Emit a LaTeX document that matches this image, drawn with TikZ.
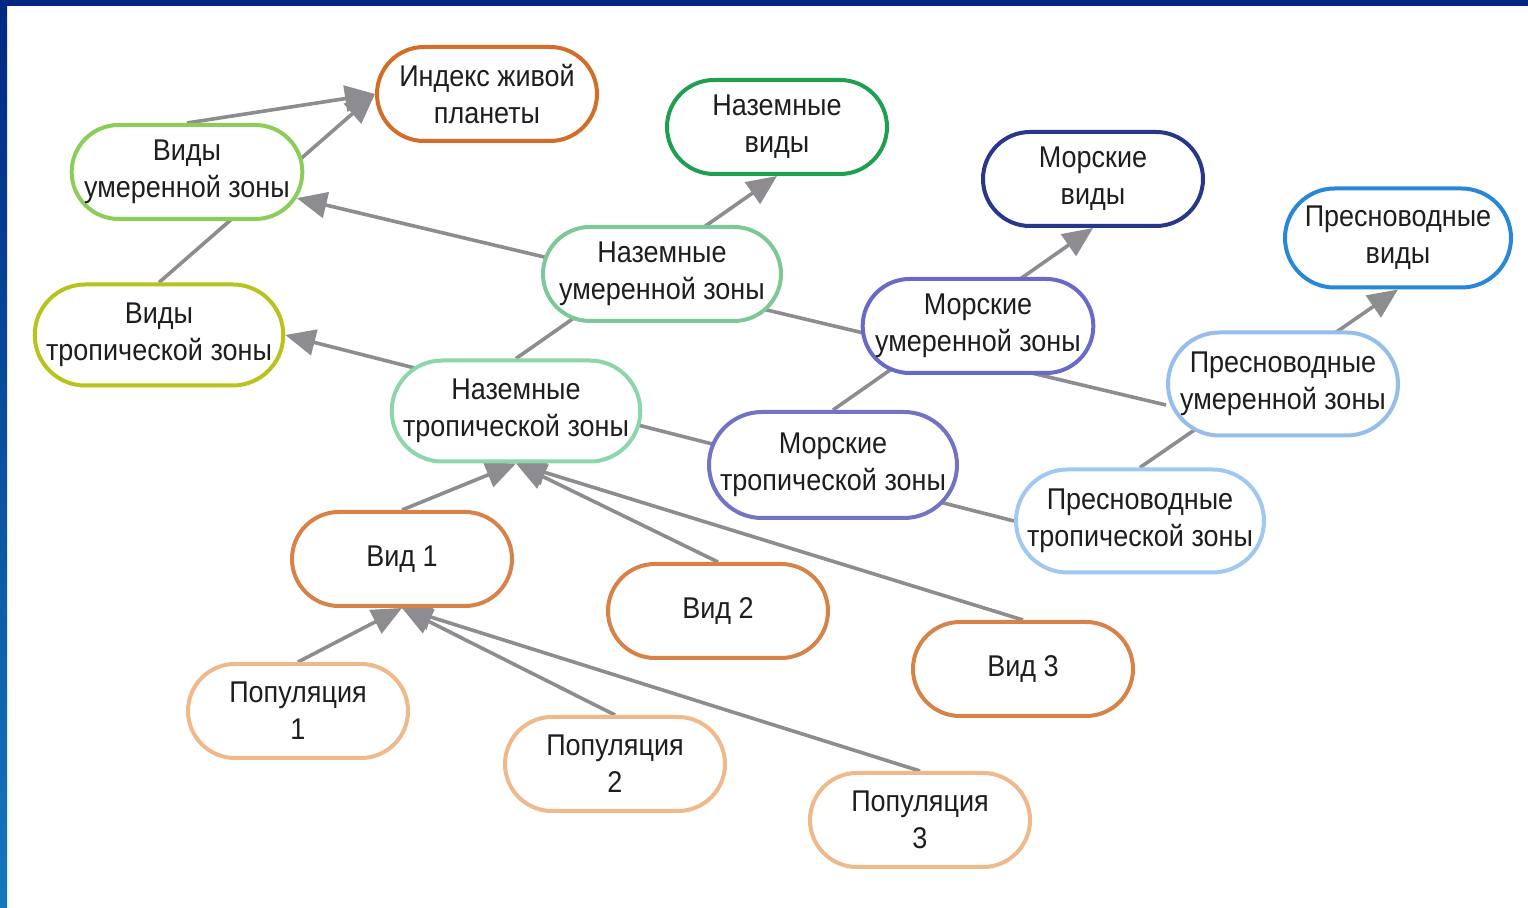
\documentclass[tikz,border=0pt]{standalone}
\usepackage{fontspec}
\setmainfont{Liberation Sans}[FakeStretch=0.9]
\usetikzlibrary{shapes.misc,arrows.meta,backgrounds,calc}
\definecolor{frameA}{RGB}{0,40,130}
\definecolor{frameB}{RGB}{20,120,190}
\definecolor{cIdx}{RGB}{210,110,40}
\definecolor{cNv}{RGB}{30,160,80}
\definecolor{cMv}{RGB}{40,55,140}
\definecolor{cPv}{RGB}{40,135,215}
\definecolor{cVu}{RGB}{140,205,90}
\definecolor{cVt}{RGB}{185,195,30}
\definecolor{cNu}{RGB}{125,200,150}
\definecolor{cNt}{RGB}{140,215,170}
\definecolor{cMu}{RGB}{105,105,200}
\definecolor{cMt}{RGB}{115,115,195}
\definecolor{cPu}{RGB}{150,190,235}
\definecolor{cPt}{RGB}{160,200,240}
\definecolor{cVid}{RGB}{215,130,70}
\definecolor{cPop}{RGB}{240,185,140}
\definecolor{cLink}{RGB}{140,140,145}
\definecolor{cText}{RGB}{30,30,30}
\begin{document}
\begin{tikzpicture}[x=0.5pt,y=-0.5pt,
  box/.style={rounded rectangle, draw=#1, line width=2pt, fill=white,
    text=cText, align=center, inner sep=0pt, font=\fontsize{15pt}{18.5pt}\selectfont,
    minimum width=110pt, minimum height=47pt},
  wide/.style={minimum width=121pt, minimum height=50.5pt},
  link/.style={draw=cLink, line width=1.8pt},
  arr/.style={link, -{Triangle[length=15pt,width=13pt]}}]
\useasboundingbox (0,0) rectangle (1528,908);
\begin{pgfonlayer}{background}
  \fill[white] (0,0) rectangle (1528,908);
  \fill[frameA] (0,0) rectangle (1528,6);
  \shade[top color=frameA, bottom color=frameB] (0,0) rectangle (7,908);
\end{pgfonlayer}
% nodes
\node[box=cIdx] (idx) at (487,94) {Индекс живой\\планеты};
\node[box=cNv] (nv) at (777,127) {Наземные\\виды};
\node[box=cMv] (mv) at (1093,179) {Морские\\виды};
\node[box=cPv, minimum width=113pt, minimum height=49.5pt] (pv) at (1398,238) {Пресноводные\\виды};
\node[box=cVu] (vu) at (187,172) {Виды\\умеренной зоны};
\node[box=cVt, wide] (vt) at (159,335) {Виды\\тропической зоны};
\node[box=cNu, minimum width=119pt] (nu) at (662,274) {Наземные\\умеренной зоны};
\node[box=cMu] (mu) at (978,326) {Морские\\умеренной зоны};
\node[box=cPu, minimum width=115pt, minimum height=51.5pt] (pu) at (1283,384) {Пресноводные\\умеренной зоны};
\node[box=cNt, wide] (nt) at (516,411) {Наземные\\тропической зоны};
\node[box=cMt, wide, minimum width=124pt, minimum height=53pt] (mt) at (833,465) {Морские\\тропической зоны};
\node[box=cPt, wide, minimum width=123pt, minimum height=51.5pt] (pt) at (1140,521) {Пресноводные\\тропической зоны};
\node[box=cVid] (v1) at (402,559) {Вид 1};
\node[box=cVid] (v2) at (718,611) {Вид 2};
\node[box=cVid] (v3) at (1023,669) {Вид 3};
\node[box=cPop] (p1) at (298,711) {Популяция\\1};
\node[box=cPop] (p2) at (615,764) {Популяция\\2};
\node[box=cPop] (p3) at (920,820) {Популяция\\3};
\coordinate (pus) at ($(pu.west)+(0,21)$);
% connectors
\begin{pgfonlayer}{background}
  \draw[arr] (pus) -- (vu);
  \draw[arr] (pt.west) -- (vt.east);
  \draw[arr] (vt.north) -- (idx.west);
  \draw[arr] (vu.north) -- (idx.west);
  \draw[arr] (nt.north) -- (nv.south);
  \draw[arr] (mt.north) -- (mv.south);
  \draw[arr] (pt.north) -- (pv.south);
  \draw[arr] (v1.north) -- (nt.south);
  \draw[arr] (v2.north) -- (nt.south);
  \draw[arr] (v3.north) -- (nt.south);
  \draw[arr] (p1.north) -- (v1.south);
  \draw[arr] (p2.north) -- (v1.south);
  \draw[arr] (p3.north) -- (v1.south);
\end{pgfonlayer}
\end{tikzpicture}
\end{document}
